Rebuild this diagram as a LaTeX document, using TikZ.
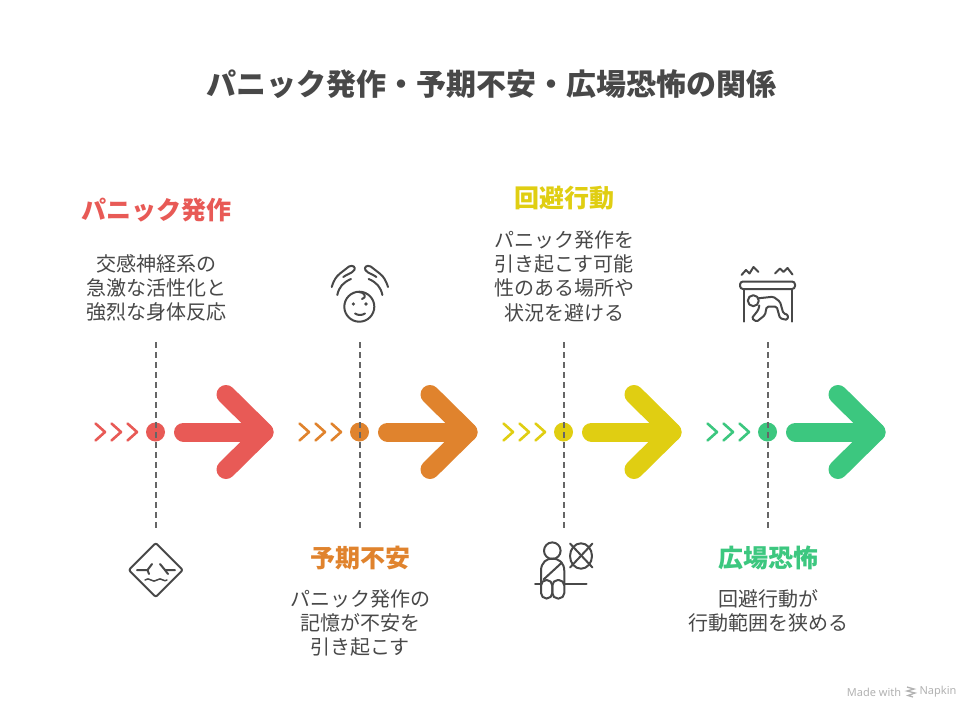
\documentclass[tikz,border=0pt]{standalone}
\usepackage{fontspec}
\usepackage{xcolor}
\setmainfont{Noto Sans CJK JP}
\newfontfamily\napkinfont{Noto Sans}
\definecolor{ink}{HTML}{484848}
\definecolor{guidegray}{HTML}{666666}
\definecolor{panicred}{HTML}{E85A56}
\definecolor{anxorange}{HTML}{E0832D}
\definecolor{avoidyellow}{HTML}{E0CE12}
\definecolor{agoragreen}{HTML}{3CC77F}
\tikzset{
  headlabel/.style={inner sep=0pt,font=\fontsize{25}{30}\selectfont\bfseries},
  bodylabel/.style={inner sep=0pt,align=center,text=ink,font=\fontsize{20}{24.3}\selectfont},
  bigarrow/.style={line width=19,line cap=round,line join=round},
  chevron/.style={line width=2.6,line cap=round,line join=round},
  dot/.style={circle,inner sep=0pt,minimum size=19},
  guide/.style={guidegray,line width=2,dash pattern=on 6 off 4},
  icon/.style={ink,line width=2,line cap=round,line join=round}
}
\begin{document}
\begin{tikzpicture}[x=1pt,y=-1pt]
  \useasboundingbox (0,0) rectangle (980,720);
  \fill[white] (0,0) rectangle (980,720);

  \node[inner sep=0pt,text=ink,font=\fontsize{30}{36}\selectfont\bfseries] (title) at (491, 84) {パニック発作・予期不安・広場恐怖の関係};

  % red
  \draw[chevron,panicred] (95.5,423.5)--(105,432)--(95.5,440.5);
  \draw[chevron,panicred] (111.5,423.5)--(121,432)--(111.5,440.5);
  \draw[chevron,panicred] (127.5,423.5)--(137,432)--(127.5,440.5);
  \node[dot,fill=panicred] (dotA) at (155.5, 432) {};
  \draw[bigarrow,panicred] (183.5,432)--(264,432);
  \draw[bigarrow,panicred] (226,394.5)--(264,432)--(226,469.5);

  % orange
  \draw[chevron,anxorange] (299.5,423.5)--(309,432)--(299.5,440.5);
  \draw[chevron,anxorange] (315.5,423.5)--(325,432)--(315.5,440.5);
  \draw[chevron,anxorange] (331.5,423.5)--(341,432)--(331.5,440.5);
  \node[dot,fill=anxorange] (dotB) at (359.5, 432) {};
  \draw[bigarrow,anxorange] (387.5,432)--(468,432);
  \draw[bigarrow,anxorange] (430,394.5)--(468,432)--(430,469.5);

  % yellow
  \draw[chevron,avoidyellow] (503.5,423.5)--(513,432)--(503.5,440.5);
  \draw[chevron,avoidyellow] (519.5,423.5)--(529,432)--(519.5,440.5);
  \draw[chevron,avoidyellow] (535.5,423.5)--(545,432)--(535.5,440.5);
  \node[dot,fill=avoidyellow] (dotC) at (563.5, 432) {};
  \draw[bigarrow,avoidyellow] (591.5,432)--(672,432);
  \draw[bigarrow,avoidyellow] (634,394.5)--(672,432)--(634,469.5);

  % green
  \draw[chevron,agoragreen] (707.5,423.5)--(717,432)--(707.5,440.5);
  \draw[chevron,agoragreen] (723.5,423.5)--(733,432)--(723.5,440.5);
  \draw[chevron,agoragreen] (739.5,423.5)--(749,432)--(739.5,440.5);
  \node[dot,fill=agoragreen] (dotD) at (767.5, 432) {};
  \draw[bigarrow,agoragreen] (795.5,432)--(876,432);
  \draw[bigarrow,agoragreen] (838,394.5)--(876,432)--(838,469.5);

  % guides
  \coordinate (topA) at (155.5, 342);
  \coordinate (botA) at (155.5, 530);
  \coordinate (topB) at (359.5, 342);
  \coordinate (botB) at (359.5, 530);
  \coordinate (topC) at (563.5, 342);
  \coordinate (botC) at (563.5, 530);
  \coordinate (topD) at (767.5, 342);
  \coordinate (botD) at (767.5, 530);
  \draw[guide] (topA) -- (dotA.center) -- (botA);
  \draw[guide] (topB) -- (dotB.center) -- (botB);
  \draw[guide] (topC) -- (dotC.center) -- (botC);
  \draw[guide] (topD) -- (dotD.center) -- (botD);

  % labels
  \node[headlabel,text=panicred] (headA) at (156, 210) {パニック発作};
  \node[bodylabel] (bodyA) at (156, 288) {交感神経系の\\急激な活性化と\\強烈な身体反応};
  \node[headlabel,text=anxorange] (headB) at (360, 558) {予期不安};
  \node[bodylabel] (bodyB) at (360, 623) {パニック発作の\\記憶が不安を\\引き起こす};
  \node[headlabel,text=avoidyellow] (headC) at (564, 198) {回避行動};
  \node[bodylabel] (bodyC) at (564, 276) {パニック発作を\\引き起こす可能\\性のある場所や\\状況を避ける};
  \node[headlabel,text=agoragreen] (headD) at (768, 558) {広場恐怖};
  \node[bodylabel] (bodyD) at (768, 611) {回避行動が\\行動範囲を狭める};

  % diamond face
  \draw[icon,rounded corners=2] (155.8,543)--(182.8,570)--(155.8,597)--(128.8,570)--cycle;
  \draw[icon] (137,570)--(147.5,570)--(152,564);
  \draw[icon] (147.5,570)--(149,574);
  \draw[icon] (175,570)--(165,570)--(160,564);
  \draw[icon] (165,570)--(168,574);
  \draw[icon,line width=1.5] (145,580) .. controls (147,578.5) and (149,578.5) .. (151,580) .. controls (153,581.5) and (155,581.5) .. (157,580) .. controls (159,578.5) and (161,578.5) .. (163,580) .. controls (164,581) and (166,581) .. (167,580);

  % head and hands
  \draw[icon] (359.3,306.7) circle (15);
  \fill[ink] (353.3,304) circle (1.8);
  \fill[ink] (366,304) circle (1.8);
  \draw[icon] (355,313.5) .. controls (358,315.5) and (362,315.5) .. (365,313.5);
  \draw[icon] (359,292) .. controls (365,292) and (367,298) .. (362,299);
  \draw[icon] (331.7,287) .. controls (334,280) and (336,276.7) .. (340,273.5) -- (349,266.5) .. controls (353,264.5) and (356,267.5) .. (354.3,270) .. controls (352,273.5) and (347,274) .. (343.3,277);
  \draw[icon] (337.3,295) .. controls (339,287) and (343,282.5) .. (351,279);
  \draw[icon] (388,287) .. controls (385.7,280) and (383.7,276.7) .. (379.7,273.5) -- (370.7,266.5) .. controls (366.7,264.5) and (363.7,267.5) .. (365.4,270) .. controls (367.7,273.5) and (372.7,274) .. (376.4,277);
  \draw[icon] (382.4,295) .. controls (380.7,287) and (376.7,282.5) .. (368.7,279);

  % seated figure
  \draw[icon] (552.3,550.7) circle (8.3);
  \draw[icon] (541,583) -- (541,571) .. controls (541,562) and (547,558.5) .. (552.3,558.5) .. controls (558,558.5) and (564.3,562) .. (564.3,571) -- (564.3,583);
  \draw[icon] (543.5,579.5) -- (562,562.5);
  \draw[icon,rounded corners=5.5] (541,580) rectangle (552.3,598.5);
  \draw[icon,rounded corners=5.5] (552.3,580) rectangle (564.3,598.5);
  \draw[icon] (535,583.5) -- (541,583.5);
  \draw[icon] (564.3,583.5) -- (586.5,583.5);
  \draw[icon] (581,556) ellipse (11 and 12.7);
  \draw[icon] (570,543.5) -- (592.5,567.5);
  \draw[icon] (592.5,543.5) -- (570,567.5);

  % crawling figure
  \draw[icon,rounded corners=3] (740,281.5) rectangle (795,289);
  \draw[icon] (743.5,289) -- (743.5,321.7);
  \draw[icon] (791.5,289) -- (791.5,321.7);
  \draw[icon] (741.5,275) -- (746,270) -- (749.5,273.5) -- (753.5,267) -- (758.5,272);
  \draw[icon] (775,273.5) -- (780,268.5) -- (783.5,272) -- (787.5,268) -- (792.5,274.5);
  \draw[icon] (753.3,300.7) circle (5.5);
  \draw[icon,rounded corners=1.5] (758.3,298.3) -- (773.3,296.7) -- (780,301.7) -- (783.3,313.3) -- (788.3,315) -- (787.3,320) -- (780,318.3) -- (776.7,306.7) -- (766.7,306.7) -- (765,315) -- (756.7,321.7) -- (751.7,318.3) -- (758.3,310) -- (759.3,305.5);

  % watermark
  \node[inner sep=0pt,text=black!30,font=\napkinfont\fontsize{11}{13}\selectfont] (madewith) at (874, 692) {Made with};
  \node[inner sep=0pt,text=black!30,font=\napkinfont\fontsize{11}{13}\selectfont] (napkin) at (938, 692) {Napkin};
  \draw[black!30,line width=1.3] (907,687)--(914,689)--(907,691)--(915,693)--(908,695.5)--(913,697);
\end{tikzpicture}
\end{document}
